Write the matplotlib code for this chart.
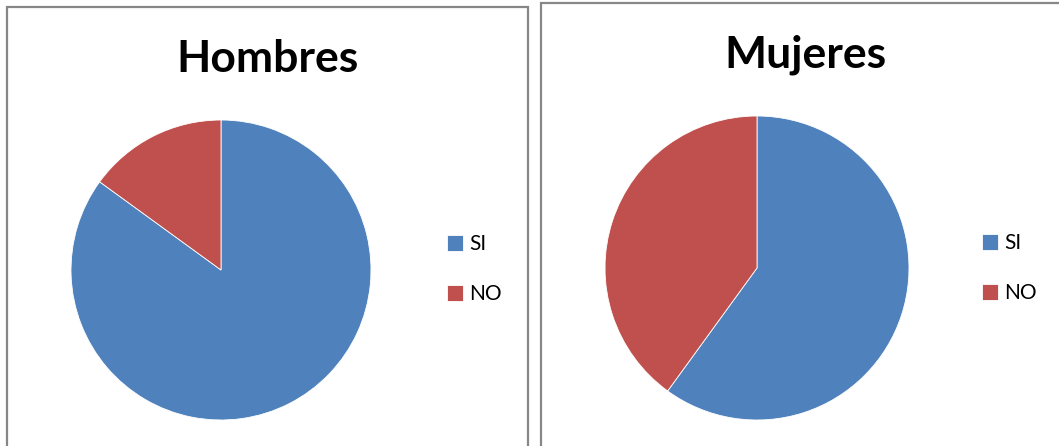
import matplotlib
matplotlib.use("Agg")
import matplotlib.pyplot as plt
from matplotlib.patches import Rectangle

labels = ["SI", "NO"]
hombres = [85, 15]
mujeres = [60, 40]
colors = ["#4F81BD", "#C0504D"]

W, H = 1059, 446
fig = plt.figure(figsize=(W / 100, H / 100), dpi=100)
fig.patch.set_facecolor("white")


def px_box(x0, y0, w, h):
    """Pixel box (top-left origin) -> figure fraction rect."""
    return [x0 / W, (H - y0 - h) / H, w / W, h / H]


# panel frames
for (x0, y0, x1, y1) in [(7, 7, 528, 460), (541, 3, 1075, 460)]:
    fig.patches.append(Rectangle((x0 / W, 1 - y1 / H), (x1 - x0) / W, (y1 - y0) / H,
                                 transform=fig.transFigure, fill=False,
                                 edgecolor="#878787", linewidth=1.6))


def panel(title, values, cx, cy, r, title_xy, leg_xy):
    ax = fig.add_axes(px_box(cx - r, cy - r, 2 * r, 2 * r))
    wedges, _ = ax.pie(values, colors=colors, startangle=90, counterclock=False,
                       radius=1, wedgeprops=dict(edgecolor="white", linewidth=0.6))
    ax.set_xlim(-1, 1)
    ax.set_ylim(-1, 1)
    ax.axis("off")
    fig.text(title_xy[0] / W, 1 - title_xy[1] / H, title, ha="center", va="center",
             fontsize=32, fontweight="bold", family="Lato")
    fig.legend(wedges, labels, loc="upper left",
               bbox_to_anchor=(leg_xy[0] / W, 1 - leg_xy[1] / H),
               frameon=False, prop=dict(family="Lato", size=15),
               handlelength=0.78, handleheight=0.78, handletextpad=0.3,
               labelspacing=1.45, borderpad=0, borderaxespad=0)


panel("Hombres", hombres, 221, 270, 150, (268, 59), (447, 234))
panel("Mujeres", mujeres, 757, 268, 152, (805, 55), (982, 233))

fig.savefig("out.png", dpi=100, facecolor="white")
